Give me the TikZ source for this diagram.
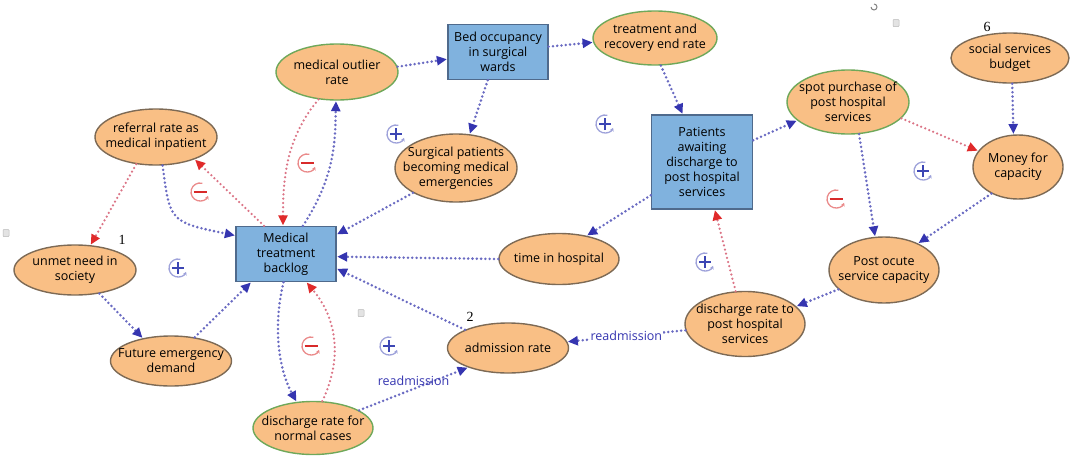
\documentclass[tikz,border=0pt]{standalone}
\usepackage{fontspec}
\setmainfont{Open Sans}
\newfontfamily\numfont{Liberation Serif}
\usetikzlibrary{arrows.meta,shapes.geometric}

\definecolor{peach}{HTML}{F9BF85}
\definecolor{ellbrown}{HTML}{7D6A55}
\definecolor{ellgreen}{HTML}{6FA85A}
\definecolor{boxfill}{HTML}{80B2DE}
\definecolor{boxline}{HTML}{4F6A8C}
\definecolor{dotblue}{HTML}{6A6BC2}
\definecolor{tipblue}{HTML}{3535B0}
\definecolor{dotred}{HTML}{DB7486}
\definecolor{tipred}{HTML}{E02A2A}
\definecolor{loopblue}{HTML}{3C46B4}
\definecolor{loopred}{HTML}{D82A2A}
\definecolor{iconGrey}{HTML}{B8B8B8}

\tikzset{
  x=1pt, y=-1pt,
  lbl/.style={font=\fontsize{12.5}{15}\selectfont, align=center, text=black},
  ell/.style={lbl, ellipse, draw=ellbrown, line width=1.4pt, fill=peach, inner xsep=-14pt, inner ysep=-6pt},
  ellg/.style={ell, draw=ellgreen},
  stock/.style={lbl, rectangle, draw=boxline, line width=1.3pt, fill=boxfill, inner sep=0pt},
  plink/.style={draw=dotblue, line width=2.8pt, line cap=round, dash pattern=on 0pt off 4.3pt,
    -{Triangle[length=10pt,width=9pt,color=tipblue]}, shorten >=0.5pt},
  nlink/.style={draw=dotred, line width=2.5pt, line cap=round, dash pattern=on 0pt off 4.3pt,
    -{Triangle[length=10pt,width=9pt,color=tipred]}, shorten >=0.5pt},
  linktext/.style={font=\fontsize{12.5}{15}\selectfont, text=tipblue, fill=white, inner sep=1pt},
  num/.style={font=\numfont\fontsize{14}{15}\selectfont, text=black},
  looppos/.pic={
    \draw[loopblue!50, line width=1.3pt, -{Stealth[length=3.5pt,width=4pt]}] (75:9pt) arc (75:335:9pt);
    \draw[loopblue, line width=1.1pt] (-6pt,0) -- (6pt,0) (0,-6pt) -- (0,6pt);
  },
  loopneg/.pic={
    \draw[loopred!55, line width=1.3pt, -{Stealth[length=3.5pt,width=4pt]}] (75:9pt) arc (75:335:9pt);
    \draw[loopred, line width=1.2pt] (-6.5pt,0) -- (6.5pt,0);
  },
  icon/.style={draw=iconGrey, fill=iconGrey!40, line width=0.5pt, rounded corners=0.8pt, minimum width=6pt, minimum height=7pt, inner sep=0pt}
}

\begin{document}
\begin{tikzpicture}
\useasboundingbox (0,0) rectangle (1071,458);

% stocks
\node[stock, minimum width=100pt, minimum height=55pt] (bed) at (498,52) {Bed occupancy\\in surgical\\wards};
\node[stock, minimum width=101pt, minimum height=94pt] (pat) at (702,162) {Patients\\awaiting\\discharge to\\post hospital\\services};
\node[stock, minimum width=100pt, minimum height=55pt] (back) at (286,254) {Medical\\treatment\\backlog};

% auxiliaries
\node[ellg, minimum width=122pt, minimum height=56pt] (mor) at (337,72) {medical outlier\\rate};
\node[ellg, minimum width=124pt, minimum height=54pt] (trt) at (655,38) {treatment and\\recovery end rate};
\node[ell, minimum width=122pt, minimum height=56pt] (ref) at (156,137) {referral rate as\\medical inpatient};
\node[ell, minimum width=122pt, minimum height=68pt] (surg) at (456,168) {Surgical patients\\becoming medical\\emergencies};
\node[ellg, minimum width=122pt, minimum height=64pt] (spot) at (848,102) {spot purchase of\\post hospital\\services};
\node[ell, minimum width=118pt, minimum height=50pt] (bud) at (1010,58) {social services\\budget};
\node[ell, minimum width=90pt, minimum height=64pt] (money) at (1018,167) {Money for\\capacity};
\node[ell, minimum width=122pt, minimum height=50pt] (unmet) at (75,270) {unmet need in\\society};
\node[ell, minimum width=121pt, minimum height=50pt] (fut) at (171,361) {Future emergency\\demand};
\node[ell, minimum width=120pt, minimum height=51pt] (time) at (559,259) {time in hospital};
\node[ell, minimum width=121pt, minimum height=50pt] (adm) at (508,348) {admission rate};
\node[ell, minimum width=120pt, minimum height=65pt] (dpost) at (745,324) {discharge rate to\\post hospital\\services};
\node[ell, minimum width=110pt, minimum height=66pt] (post) at (884,270) {Post ocute\\service capacity};
\node[ellg, minimum width=120pt, minimum height=53pt] (dnorm) at (313,428) {discharge rate for\\normal cases};

% causal links
\draw[nlink] (ref.234) -- (unmet.58);
\draw[plink] (ref.283) .. controls (170,222) .. (back.160);
\draw[nlink] (back.128) -- (ref.330);
\draw[nlink] (mor.236) .. controls (284,140) and (283,185) .. (back.96);
\draw[plink] (back.59) .. controls (336,175) and (335,140) .. (mor.268);
\draw[plink] (mor.5) -- (bed.188);
\draw[plink] (bed.6) -- (trt.184);
\draw[plink] (bed.250) -- (surg.68);
\draw[plink] (surg.210) -- (back.21);
\draw[plink] (trt.282) -- (pat.112);
\draw[plink] (pat.23) -- (spot.200);
\draw[plink] (pat.213) -- (time.40);
\draw[plink] (time.west) -- (back.-3);
\draw[nlink] (spot.343) -- (money.158);
\draw[plink] (spot.289) -- (post.105);
\draw[plink] (bud.275) -- (money.98);
\draw[plink] (money.225) -- (post.38);
\draw[plink] (post.203) -- (dpost.19);
\draw[nlink] (dpost.106) -- (pat.285);
\draw[plink] (dpost.186) -- node[linktext, pos=0.5] {readmission} (adm.6);
\draw[plink] (adm.157) -- (back.-16);
\draw[plink] (back.265) .. controls (272,330) and (280,372) .. (dnorm.122);
\draw[nlink] (dnorm.71) .. controls (342,360) and (338,320) .. (back.306);
\draw[plink] (unmet.316) -- (fut.141);
\draw[plink] (fut.45) -- (back.219);
\draw[plink] (dnorm.21) -- node[linktext, pos=0.5, above=1pt, fill=none] {readmission} (adm.206);

% loop polarity markers
\pic at (200,192) {loopneg};
\pic at (307,163) {loopneg};
\pic at (396,134) {looppos};
\pic at (605,124) {looppos};
\pic at (178,268) {looppos};
\pic at (311,346) {loopneg};
\pic at (389,346) {looppos};
\pic at (705,262) {looppos};
\pic at (836,199) {loopneg};
\pic at (923,171) {looppos};

% numbering
\node[num] (n1) at (122,240) {1};
\node[num] (n2) at (470,317) {2};
\node[num] (n6) at (987,27) {6};

% small toolbar glyphs
\node[icon] (ic1) at (6,233) {};
\node[icon] (ic2) at (361,313) {};
\node[icon] (ic3) at (896,23) {};
\draw[iconGrey!70!black, line width=1pt] (874,4) arc (90:-180:3pt);
\end{tikzpicture}
\end{document}
